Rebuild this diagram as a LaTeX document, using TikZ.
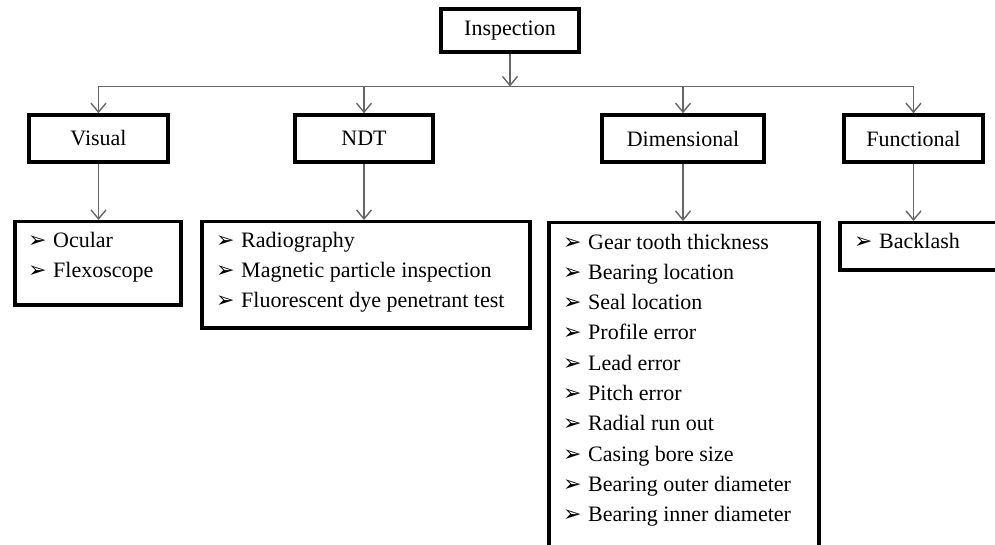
\documentclass[tikz,border=0pt]{standalone}
\usepackage{fontspec}
\setmainfont{Liberation Serif}
\newfontfamily\dingfont{DejaVu Sans}
\usetikzlibrary{arrows.meta}
\newcommand{\mk}{\makebox[25pt][l]{\dingfont\fontsize{22}{22}\selectfont ➢}}

\begin{document}
\begin{tikzpicture}[x=1pt,y=-1pt]

    \tikzset{
      head/.style={
        draw,
        line width=3.5pt,
        inner sep=0pt,
        minimum height=47pt,
        font=\fontsize{22}{26}\selectfont,
      },
      listbox/.style={draw, line width=3.5pt, inner sep=0pt, anchor=north west},
      items/.style={inner sep=0pt, anchor=base west, align=left, font=\fontsize{22}{30.3}\selectfont},
      link/.style={draw=black!60, line width=1.4pt},
      tip/.style={link, -{Straight Barb[length=9pt,width=15pt]}},
    }
    \useasboundingbox (0,0) rectangle (995,545);
    \clip (0,0) rectangle (995,545);

	% top
	\node[head, minimum width=138pt, minimum height=43pt] (insp) at (510,30.5) {Inspection};
	\coordinate (bus) at (510,86.5);

	% second row
	\node[head, minimum width=139pt] (visual) at (98.5,138.5) {Visual};
	\node[head, minimum width=138pt] (ndt) at (364,138.5) {NDT};
	\node[head, minimum width=162pt] (dim) at (683,138.5) {Dimensional};
	\node[head, minimum width=139pt] (func) at (913.5,138.5) {Functional};

	% lists (base of a list node = its last line)
	\node[listbox, minimum width=166pt, minimum height=83pt] (vlist) at (13,220) {};
	\node[listbox, minimum width=328pt, minimum height=106pt] (nlist) at (200,220) {};
	\node[listbox, minimum width=270pt, minimum height=340pt] (dlist) at (547,221) {};
	\node[listbox, minimum width=170pt, minimum height=47pt] (flist) at (838,221) {};

	\node[items] (vitems) at ([shift={(15,57.3)}]vlist.north west) {\mk Ocular\\ \mk Flexoscope};
	\node[items] (nitems) at ([shift={(16,87.6)}]nlist.north west) {\mk Radiography\\ \mk Magnetic particle inspection\\ \mk Fluorescent dye penetrant test};
	\node[items] (ditems) at ([shift={(16,300.7)}]dlist.north west) {\mk Gear tooth thickness\\ \mk Bearing location\\ \mk Seal location\\ \mk Profile error\\ \mk Lead error\\ \mk Pitch error\\ \mk Radial run out\\ \mk Casing bore size\\ \mk Bearing outer diameter\\ \mk Bearing inner diameter};
	\node[items] (fitems) at ([shift={(16,28)}]flist.north west) {\mk Backlash};

	% connectors
	\draw[tip] (insp.south) -- (bus);
	\draw[link] (visual.north |- bus) -- (func.north |- bus);
	\draw[tip] (visual.north |- bus) -- (visual.north);
	\draw[tip] (ndt.north |- bus) -- (ndt.north);
	\draw[tip] (dim.north |- bus) -- (dim.north);
	\draw[tip] (func.north |- bus) -- (func.north);

	\draw[tip] (visual.south) -- (visual.south |- vlist.north);
	\draw[tip] (ndt.south) -- (ndt.south |- nlist.north);
	\draw[tip] (dim.south) -- (dim.south |- dlist.north);
	\draw[tip] (func.south) -- (func.south |- flist.north);

\end{tikzpicture}
\end{document}
